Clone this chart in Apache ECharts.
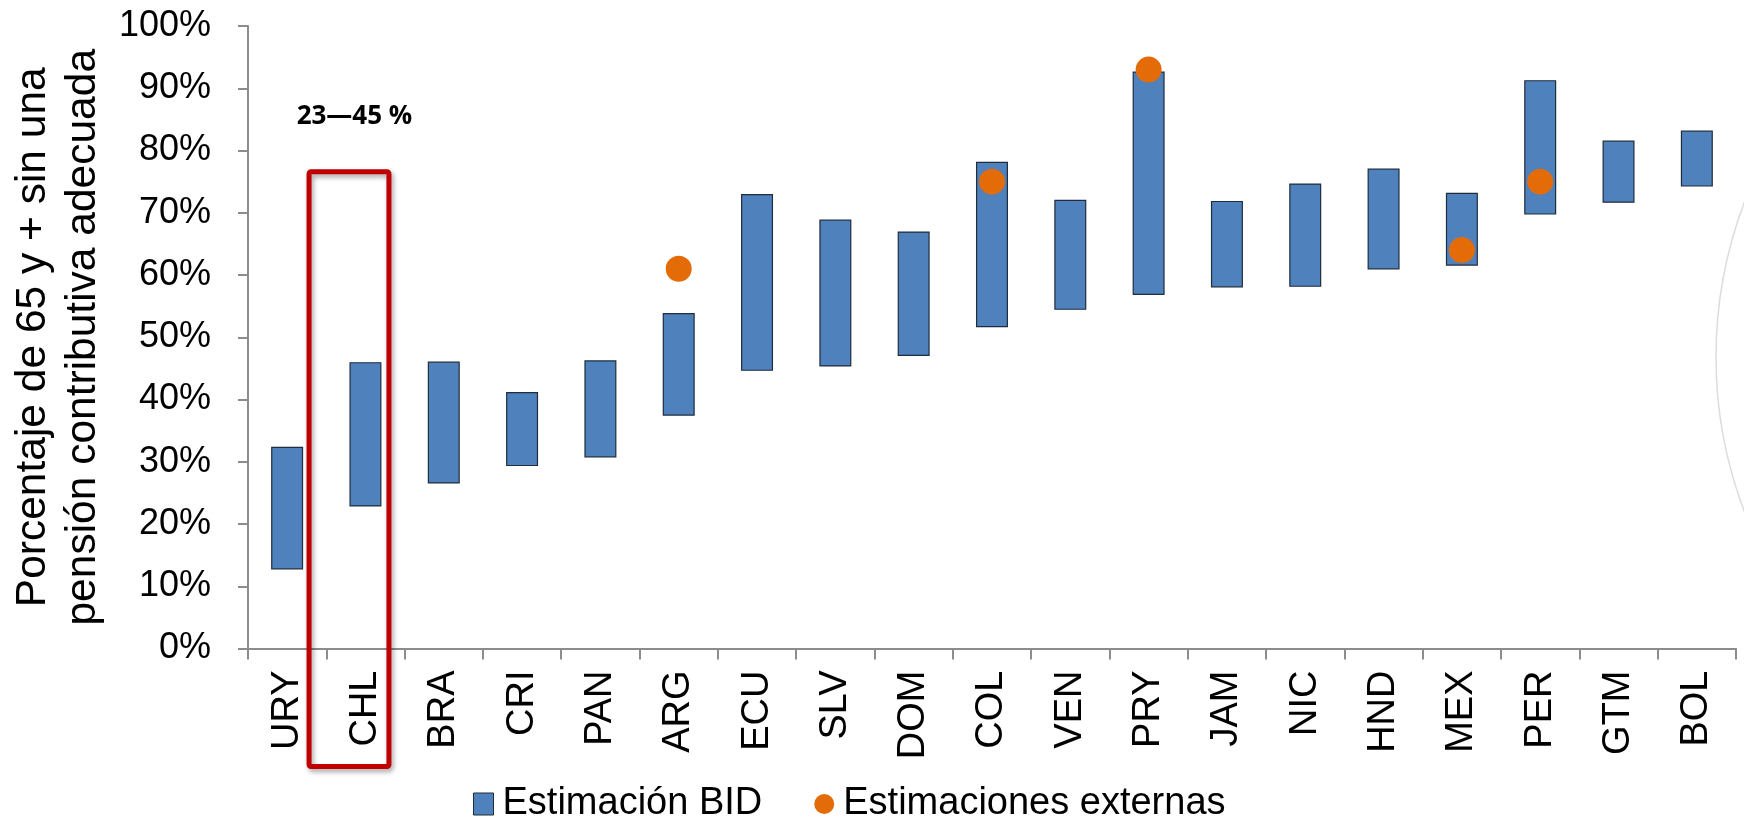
<!DOCTYPE html>
<html>
<head>
<meta charset="utf-8">
<script src="https://cdn.jsdelivr.net/npm/echarts@6/dist/echarts.min.js"></script>
<style>
html,body{margin:0;padding:0;background:#fff;}
#chart{width:1744px;height:816px;}
</style>
</head>
<body>
<div id="chart"></div>
<script>
// ---- data ----
var categories = ['URY','CHL','BRA','CRI','PAN','ARG','ECU','SLV','DOM','COL','VEN','PRY','JAM','NIC','HND','MEX','PER','GTM','BOL'];
var bidLow  = [12.7, 22.8, 26.5, 29.3, 30.7, 37.4, 44.6, 45.3, 47.0, 51.6, 54.4, 56.8, 58.0, 58.1, 60.9, 61.5, 69.7, 71.6, 74.2];
var bidHigh = [32.4, 46.0, 46.1, 41.2, 46.3, 53.9, 73.0, 68.9, 67.0, 78.2, 72.1, 92.7, 71.9, 74.7, 77.1, 73.2, 91.3, 81.6, 83.2];
var externas = [null, null, null, null, null, 61.0, null, null, null, 75.0, null, 93.0, null, null, null, 64.0, 75.0, null, null];
var yTicks = [0,10,20,30,40,50,60,70,80,90,100];
var seriesNames = ['Estimación BID', 'Estimaciones externas'];
var yTitle = 'Porcentaje de 65 y + sin una\npensión contributiva adecuada';
var highlightCategory = 'CHL';
var highlightLabel = '23\u201445 %';

var bidRange = bidHigh.map(function (h, i) { return +(h - bidLow[i]).toFixed(2); });

var chart = echarts.init(document.getElementById('chart'), null, {renderer: 'canvas'});
var FONT = '"Liberation Sans", Arial, sans-serif';

var option = {
  animation: false,
  backgroundColor: '#ffffff',
  grid: {left: 236.5, right: 8, top: 26, bottom: 167.5, containLabel: false},
  legend: {
    left: 468, top: 780,
    itemGap: 52, itemWidth: 20, itemHeight: 22,
    textStyle: {fontFamily: FONT, fontSize: 38, color: '#000', padding: [0, 0, 0, 4]},
    data: [
      {name: seriesNames[0], icon: 'rect', itemStyle: {color: '#4F81BD', borderColor: '#1f2d3d', borderWidth: 1}},
      {name: seriesNames[1], icon: 'circle', itemStyle: {color: '#E36C09'}}
    ]
  },
  xAxis: {
    type: 'category',
    data: categories,
    axisLine: {show: true, lineStyle: {color: '#8c8c8c', width: 2}},
    axisTick: {show: true, alignWithLabel: false, length: 11, lineStyle: {color: '#8c8c8c', width: 2}},
    axisLabel: {rotate: 90, margin: 22, fontFamily: FONT, fontSize: 38, color: '#000', interval: 0},
    splitLine: {show: false}
  },
  yAxis: {
    type: 'value',
    min: 0, max: 100, interval: 10,
    name: yTitle,
    nameLocation: 'middle',
    nameGap: 134,
    nameTextStyle: {fontFamily: FONT, fontSize: 42.5, color: '#000', lineHeight: 50, align: 'center'},
    axisLine: {show: true, lineStyle: {color: '#8c8c8c', width: 2}},
    axisTick: {show: true, length: 10, lineStyle: {color: '#8c8c8c', width: 2}},
    axisLabel: {margin: 37, fontFamily: FONT, fontSize: 36, color: '#000', formatter: '{value}%'},
    splitLine: {show: false}
  },
  series: [
    {
      name: '_base', type: 'bar', stack: 'bid', barWidth: 32,
      data: bidLow, itemStyle: {color: 'rgba(0,0,0,0)'}, silent: true, legendHoverLink: false
    },
    {
      name: seriesNames[0], type: 'bar', stack: 'bid', barWidth: 32,
      data: bidRange,
      itemStyle: {color: '#4F81BD', borderColor: '#1f2d3d', borderWidth: 1.2}
    },
    {
      name: seriesNames[1], type: 'scatter', symbol: 'circle', symbolSize: 26,
      data: externas, z: 5,
      itemStyle: {color: '#E36C09', opacity: 1}
    }
  ]
};
chart.setOption(option);

// annotation: red box around highlighted category and its label
var c0 = chart.convertToPixel({xAxisIndex: 0}, categories[0]);
var c1 = chart.convertToPixel({xAxisIndex: 0}, categories[1]);
var band = c1 - c0;
var cx = chart.convertToPixel({xAxisIndex: 0}, highlightCategory);
var yTop = chart.convertToPixel({yAxisIndex: 0}, 77.0);
var yZero = chart.convertToPixel({yAxisIndex: 0}, 0);
var yLab = chart.convertToPixel({yAxisIndex: 0}, 85.5);
var boxLeft = cx - 0.72 * band;
var boxRight = cx + 0.30 * band;

chart.setOption({
  graphic: [
    {
      type: 'rect', z: 50,
      shape: {x: boxLeft, y: yTop + 2.5, width: boxRight - boxLeft, height: (yZero + 118) - (yTop + 2.5), r: 2},
      style: {fill: 'none', stroke: '#C00000', lineWidth: 5,
              shadowBlur: 5, shadowOffsetX: 2, shadowOffsetY: 3, shadowColor: 'rgba(0,0,0,0.35)'}
    },
    {
      type: 'text', z: 50,
      x: cx - 11, y: yLab,
      style: {text: highlightLabel, fontFamily: '"Open Sans", "Noto Sans", sans-serif', fontWeight: 'bold',
              fontSize: 26, fill: '#000', align: 'center', verticalAlign: 'middle'}
    },
    {
      type: 'circle', z: 0, silent: true,
      shape: {cx: 2151, cy: 357, r: 435},
      style: {fill: 'none', stroke: '#dcdcdc', lineWidth: 1.5}
    }
  ]
});
</script>
</body>
</html>
